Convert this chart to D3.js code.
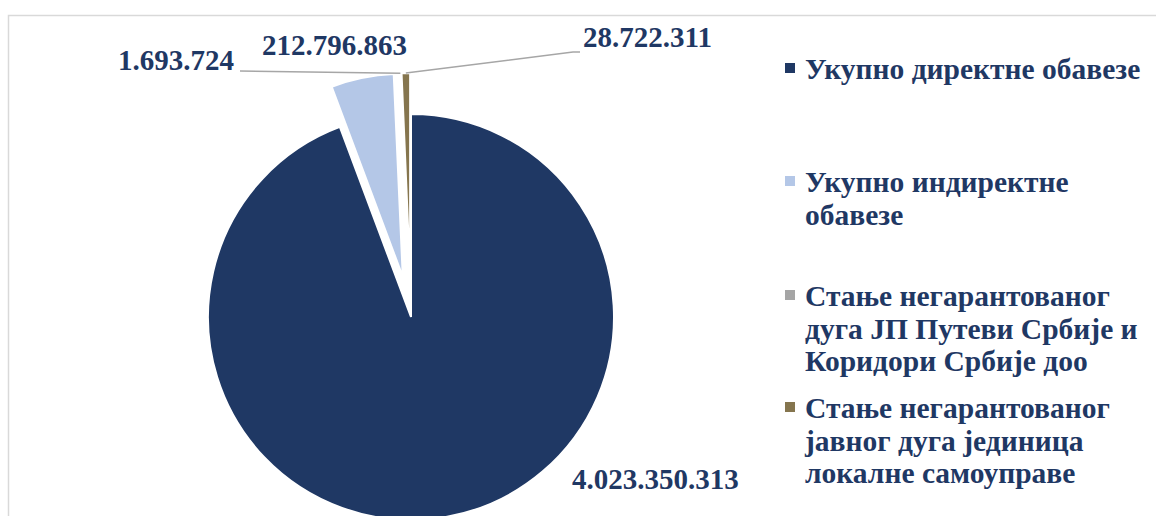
<!DOCTYPE html>
<html>
<head>
<meta charset="utf-8">
<script src="https://cdn.jsdelivr.net/npm/d3@7"></script>
<style>
  body { margin: 0; background: #fff; }
  svg { display: block; }
</style>
</head>
<body>
<svg id="chart" width="1156" height="516"></svg>
<script>
// podaci
var categories = [
  "Укупно директне обавезе",
  "Укупно индиректне обавезе",
  "Стање негарантованог дуга ЈП Путеви Србије и Коридори Србије доо",
  "Стање негарантованог јавног дуга јединица локалне самоуправе"
];
var values = [4023350313, 212796863, 1693724, 28722311];
var valueLabels = ["4.023.350.313", "212.796.863", "1.693.724", "28.722.311"];
// legenda, prelomljeno kao u originalu
var legendLines = [
  ["Укупно директне обавезе"],
  ["Укупно индиректне", "обавезе"],
  ["Стање негарантованог", "дуга ЈП Путеви Србије и", "Коридори Србије доо"],
  ["Стање негарантованог", "јавног дуга јединица", "локалне самоуправе"]
];
var colors = ["#1F3864", "#B4C7E7", "#A5A5A5", "#85754E"];

var svg = d3.select("#chart"),
    cx = 411, cy = 317,
    radius = 203,
    explode = 41,
    textColor = "#1F3864",
    font = "'Liberation Serif', 'Times New Roman', serif";

// okvir (samo gore i levo se vidi)
svg.append("path")
   .attr("d", "M8.5,516 V15.5 H1156")
   .attr("fill", "none")
   .attr("stroke", "#D9D9D9")
   .attr("stroke-width", 1.5);

var pie = d3.pie()
            .sort(null)
            .value(function(d) { return d; });

var arcs = pie(values);

var path = d3.arc()
             .outerRadius(radius)
             .innerRadius(0);

function offset(d, i) {
  if (i == 0) return [0, 0];
  var a = (d.startAngle + d.endAngle) / 2;
  return [Math.sin(a) * explode, -Math.cos(a) * explode];
}

var g = svg.append("g").attr("transform", "translate(" + cx + "," + cy + ")");

g.selectAll(".slice")
 .data(arcs)
 .enter().append("path")
   .attr("class", "slice")
   .attr("d", path)
   .attr("transform", function(d, i) { return "translate(" + offset(d, i) + ")"; })
   .attr("fill", function(d, i) { return colors[i]; })
   .attr("stroke", "#fff")
   .attr("stroke-width", 2);

// tacka na obodu odsecka (apsolutne koordinate)
function rimPoint(d, i) {
  var a = (d.startAngle + d.endAngle) / 2,
      o = offset(d, i);
  return [cx + o[0] + Math.sin(a) * radius, cy + o[1] - Math.cos(a) * radius];
}

// polozaj natpisa
var labelPos = [
  { x: 572, y: 489, anchor: "start", leader: null },
  { x: 262, y: 55, anchor: "start", leader: null },
  { x: 234, y: 70, anchor: "end", leader: [[240, 71]] },
  { x: 583, y: 47, anchor: "start", leader: [[573, 52], [580, 52]] }
];

var line = d3.line();
arcs.forEach(function(d, i) {
  var p = labelPos[i];
  if (p.leader) {
    var pts = [rimPoint(d, i)].concat(p.leader);
    svg.append("path")
       .attr("d", line(pts))
       .attr("fill", "none")
       .attr("stroke", "#A6A6A6")
       .attr("stroke-width", 1.5);
  }
  svg.append("text")
     .attr("x", p.x)
     .attr("y", p.y)
     .attr("text-anchor", p.anchor)
     .attr("font-family", font)
     .attr("font-weight", "bold")
     .attr("font-size", "29px")
     .attr("fill", textColor)
     .text(valueLabels[i]);
});

// legenda
var legendBase = [79, 192, 306, 418],
    lineH = 32.5;

var leg = svg.selectAll(".legend")
             .data(categories)
             .enter().append("g")
               .attr("class", "legend");

leg.append("rect")
   .attr("x", 785)
   .attr("y", function(d, i) { return legendBase[i] - 16; })
   .attr("width", 10)
   .attr("height", 10)
   .attr("fill", function(d, i) { return colors[i]; });

leg.append("text")
   .attr("font-family", font)
   .attr("font-weight", "bold")
   .attr("font-size", "29.5px")
   .attr("fill", textColor)
   .each(function(d, i) {
     var t = d3.select(this);
     legendLines[i].forEach(function(s, k) {
       t.append("tspan")
        .attr("x", 805)
        .attr("y", legendBase[i] + k * lineH)
        .text(s);
     });
   });
</script>
</body>
</html>
